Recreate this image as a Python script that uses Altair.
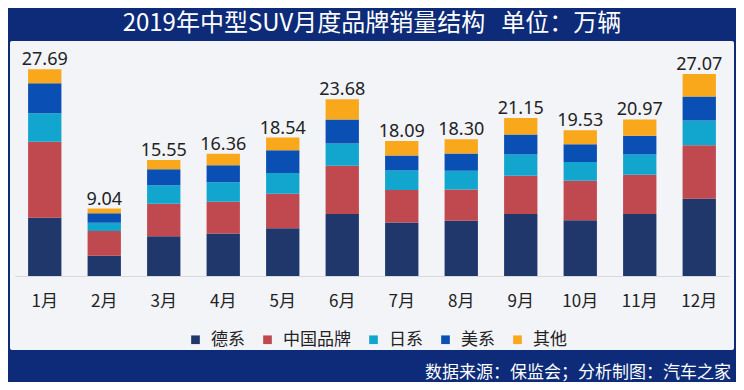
import altair as alt
import pandas as pd

months = ["1月", "2月", "3月", "4月", "5月", "6月", "7月", "8月", "9月", "10月", "11月", "12月"]
series = ["德系", "中国品牌", "日系", "美系", "其他"]
colors = ["#1f376b", "#c0494f", "#12a6cf", "#0a4fb3", "#f9a81b"]

german = [7.81, 2.72, 5.31, 5.69, 6.38, 8.29, 7.15, 7.40, 8.29, 7.47, 8.29, 10.33]
chinese = [10.18, 3.30, 4.38, 4.24, 4.64, 6.47, 4.38, 4.20, 5.13, 5.27, 5.27, 7.19]
japanese = [3.80, 1.12, 2.46, 2.63, 2.77, 2.99, 2.59, 2.50, 2.86, 2.54, 2.72, 3.30]
american = [4.02, 1.25, 2.14, 2.28, 3.04, 3.21, 2.01, 2.32, 2.68, 2.37, 2.50, 3.21]
other = [1.88, 0.65, 1.26, 1.52, 1.71, 2.72, 1.96, 1.88, 2.19, 1.88, 2.19, 3.04]
totals = [27.69, 9.04, 15.55, 16.36, 18.54, 23.68, 18.09, 18.30, 21.15, 19.53, 20.97, 27.07]

title_text = "2019年中型SUV月度品牌销量结构\u00a0\u00a0\u00a0单位：万辆"
source_text = "数据来源：保监会；分析制图：汽车之家"

rows = []
for si, (name, vals) in enumerate(zip(series, [german, chinese, japanese, american, other])):
    for m, v in zip(months, vals):
        rows.append({"month": m, "series": name, "value": v, "order": si})
df = pd.DataFrame(rows)
tot_df = pd.DataFrame({"month": months, "total": totals})
one = pd.DataFrame({"a": [0]})

FONT = "Noto Sans CJK SC"

x_enc = alt.X("month:N", sort=months, title=None,
              scale=alt.Scale(paddingInner=0.44, paddingOuter=0.22),
              axis=alt.Axis(labelAngle=0, ticks=False, labelPadding=17, zindex=2,
                            labelFontSize=17, labelFont=FONT, labelColor="#222222",
                            domainColor="#d6d8de", domainWidth=1, grid=False))
y_scale = alt.Scale(domain=[0, 30])

card = alt.Chart(one).mark_rect(color="#f3f4f8", cornerRadius=2).encode(
    x=alt.value(-5), x2=alt.value(719), y=alt.value(-11), y2=alt.value(298))

title = alt.Chart(one).mark_text(
    text=title_text, font=FONT, fontSize=24, color="white", align="center", baseline="middle"
).encode(x=alt.value(357), y=alt.value(-28))

source = alt.Chart(one).mark_text(
    text=source_text, font=FONT, fontSize=17, color="white", align="right", baseline="middle"
).encode(x=alt.value(716), y=alt.value(321))

bars = alt.Chart(df).mark_bar().encode(
    x=x_enc,
    y=alt.Y("value:Q", stack="zero", scale=y_scale, axis=None),
    color=alt.Color("series:N", sort=series,
                    scale=alt.Scale(domain=series, range=colors),
                    legend=alt.Legend(title=None, orient="none", direction="horizontal",
                                      legendX=172, legendY=279, columns=5, zindex=2,
                                      symbolType="square", symbolSize=75, symbolStrokeWidth=0,
                                      symbolOpacity=1, labelFontSize=17, labelFont=FONT,
                                      labelColor="#222222", labelOffset=7, columnPadding=14,
                                      labelLimit=200)),
    order=alt.Order("order:Q", sort="ascending"),
)

labels = alt.Chart(tot_df).mark_text(
    font="Noto Sans", fontSize=18, color="#222222", baseline="alphabetic", dy=-4
).encode(
    x=alt.X("month:N", sort=months),
    y=alt.Y("total:Q", scale=y_scale),
    text=alt.Text("total:Q", format=".2f"),
)

chart = alt.layer(card, title, source, bars, labels).properties(
    width=714, height=224,
    autosize=alt.AutoSizeParams(type="none"),
    padding={"left": 7, "top": 44, "right": 7, "bottom": 106},
).configure(background="#0d2b78").configure_view(strokeWidth=0)

chart.save("out.html", embed_options={"renderer": "svg", "actions": False})
